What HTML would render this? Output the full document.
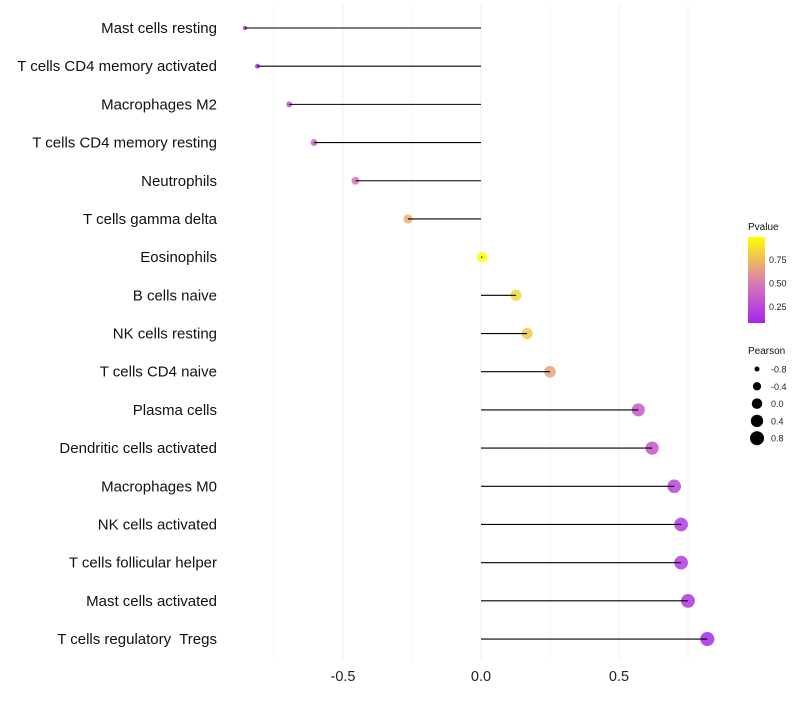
<!DOCTYPE html>
<html><head><meta charset="utf-8"><style>
body{margin:0;background:#fff;font-family:"Liberation Sans",sans-serif}
</style></head><body>
<svg id="c" width="800" height="700" xmlns="http://www.w3.org/2000/svg" font-family="Liberation Sans, sans-serif"></svg>
<script>
const categories=["Mast cells resting","T cells CD4 memory activated","Macrophages M2","T cells CD4 memory resting","Neutrophils","T cells gamma delta","Eosinophils","B cells naive","NK cells resting","T cells CD4 naive","Plasma cells","Dendritic cells activated","Macrophages M0","NK cells activated","T cells follicular helper","Mast cells activated","T cells regulatory  Tregs"];
const pearson=[-0.855,-0.81,-0.695,-0.605,-0.455,-0.265,0.005,0.127,0.167,0.25,0.57,0.62,0.70,0.725,0.725,0.75,0.82];
const pvalue=[0.05,0.05,0.3,0.35,0.45,0.7,1.0,0.85,0.8,0.65,0.3,0.28,0.2,0.15,0.15,0.12,0.05];
const xTicks=[-0.5,0,0.5];
const xTickLabels=["-0.5","0.0","0.5"];
const xMinor=[-0.75,-0.25,0.25,0.75];
const pLegend=[0.75,0.50,0.25];
const sizeLegend=[-0.8,-0.4,0.0,0.4,0.8];

const svg=document.getElementById('c');const NS="http://www.w3.org/2000/svg";
function el(t,a,p){const e=document.createElementNS(NS,t);for(const k in a)e.setAttribute(k,a[k]);(p||svg).appendChild(e);return e;}
const xs=v=>481+v*276;
const ys=i=>28+i*38.19;
const rs=v=>Math.sqrt(6.25+(v+0.8)/1.6*(49-6.25));
const stops=[[160,32,240],[220,125,178],[255,255,0]];
function col(p){p=Math.max(0,Math.min(1,p));let a,b,t;if(p<0.5){a=stops[0];b=stops[1];t=p/0.5;}else{a=stops[1];b=stops[2];t=(p-0.5)/0.5;}return `rgb(${a.map((c,i)=>Math.round(c+(b[i]-c)*t)).join(',')})`;}
xMinor.forEach(v=>{const g=el('line',{x1:xs(v),x2:xs(v),y1:5,y2:660,stroke:'#f5f5f5','stroke-width':1});

});
xTicks.forEach((v,i)=>{const g=el('line',{x1:xs(v),x2:xs(v),y1:5,y2:660,stroke:'#efefef','stroke-width':1});


const t=el('text',{x:xs(v),y:681,'text-anchor':'middle','font-size':14.5,fill:'#222'});t.textContent=xTickLabels[i];

});
categories.forEach((c,i)=>{const y=ys(i);
const t=el('text',{x:217,y:y+5,'text-anchor':'end','font-size':15,fill:'#111','xml:space':'preserve'});t.style.whiteSpace='pre';t.textContent=c;


const d=el('circle',{cx:xs(pearson[i]),cy:y,r:rs(pearson[i]),fill:col(pvalue[i]),'fill-opacity':0.85});


const l=el('line',{x1:xs(0),x2:xs(pearson[i]),y1:y,y2:y,stroke:'#000','stroke-width':1.1});

});
const lt=el('text',{x:748,y:230,'font-size':10,fill:'#111'});lt.textContent='Pvalue';


const defs=el('defs',{});const lg=el('linearGradient',{id:'g',x1:0,y1:1,x2:0,y2:0},defs);
for(let k=0;k<=10;k++){el('stop',{offset:k/10,'stop-color':col(0.03+0.97*k/10)},lg);}
const bar=el('rect',{x:748,y:237,width:17,height:86,fill:'url(#g)'});


const py=p=>330-p*94;
pLegend.forEach(p=>{const t=el('text',{x:769,y:py(p)+3.5,'font-size':9,fill:'#222'});t.textContent=p.toFixed(2);

});
const st=el('text',{x:748,y:354,'font-size':10,fill:'#111'});st.textContent='Pearson';


sizeLegend.forEach((v,i)=>{const y=369+i*17.3;
const c=el('circle',{cx:757,cy:y,r:rs(v),fill:'#000'});


const t=el('text',{x:771,y:y+3.5,'font-size':9,fill:'#222'});t.textContent=v.toFixed(1);

});
</script>
</body></html>
